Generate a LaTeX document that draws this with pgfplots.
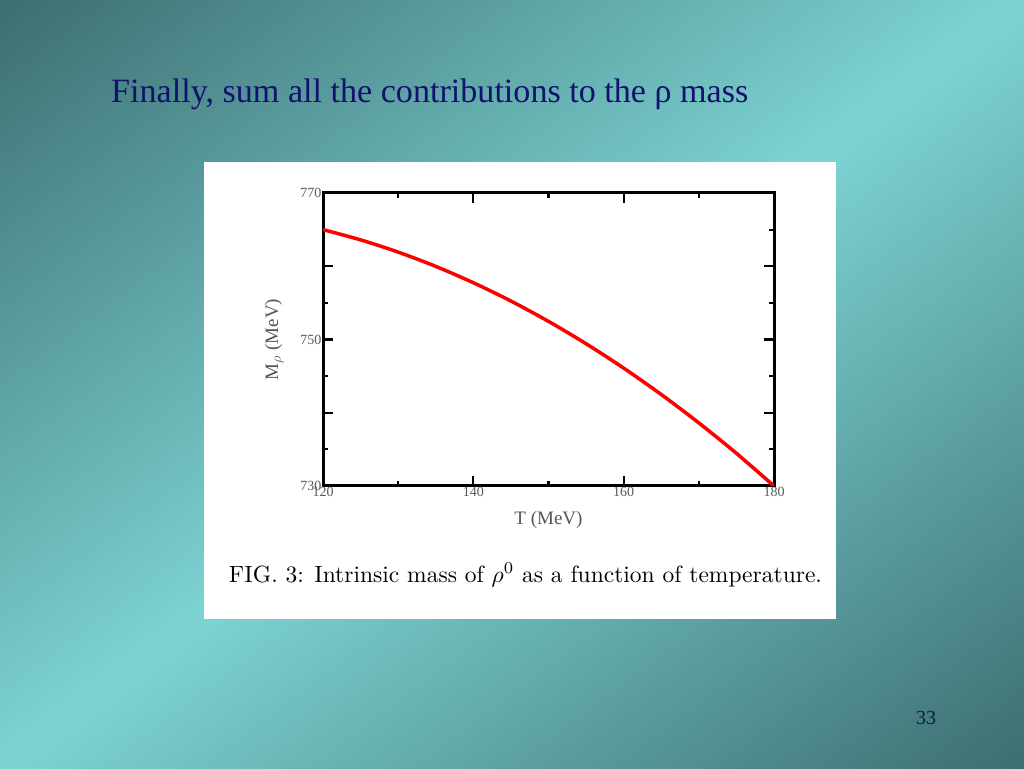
\documentclass[border=0pt]{standalone}
\usepackage{fontspec}
\usepackage{graphicx}
\usepackage{pgfplots}
\pgfplotsset{compat=1.18}
\newfontfamily\tnr{Liberation Serif}
\definecolor{bgdark}{RGB}{58,107,110}
\definecolor{bglight}{RGB}{125,211,211}
\definecolor{titleblue}{RGB}{18,18,110}
\definecolor{numcol}{RGB}{20,28,60}
\definecolor{lblgray}{RGB}{85,85,85}
\definecolor{tickgray}{RGB}{90,90,90}
\pgfdeclareverticalshading{bgshade}{100bp}{color(0bp)=(bgdark); color(14bp)=(bgdark); color(50bp)=(bglight); color(86bp)=(bgdark); color(100bp)=(bgdark)}
\begin{document}
\begin{tikzpicture}[x=1pt,y=1pt]
\useasboundingbox (0,0) rectangle (1024,768);
\shade[shading=bgshade,shading angle=36.87] (0,0) rectangle (1024,768);
\fill[white] (204,149) rectangle (836,606);
\node[anchor=base west, text=titleblue, inner sep=0pt] at (111,665) {\resizebox{637pt}{!}{\tnr Finally, sum all the contributions to the ρ mass}};
\node[inner sep=0pt] at (525.5,193) {\resizebox{593pt}{!}{FIG.~3: Intrinsic mass of $\rho^0$ as a function of temperature.}};
\node[text=numcol, inner sep=0pt] at (926,50) {\tnr\fontsize{20}{20}\selectfont 33};
\begin{axis}[
  at={(323pt,282pt)}, anchor=south west,
  scale only axis, width=451pt, height=293pt,
  xmin=120, xmax=180, ymin=730, ymax=770,
  xtick={120,140,160,180}, minor x tick num=1,
  ytick={730,740,750,760,770}, yticklabels={730,,750,,770}, minor y tick num=1,
  tick align=inside,
  major tick length=10pt, minor tick length=5pt,
  axis line style={line width=3pt, black},
  every tick/.style={black, line width=2.2pt},
  /pgf/number format/assume math mode=true,
  tick label style={font=\tnr\fontsize{14}{14}\selectfont, text=tickgray},
  yticklabel style={xshift=2pt},
  xticklabel style={yshift=2pt},
  xlabel={T (MeV)}, ylabel={M$_{\rho}$ (MeV)},
  label style={font=\tnr\fontsize{19}{19}\selectfont, text=lblgray},
  xlabel style={yshift=-7pt},
  ylabel style={yshift=10pt},
]
\addplot[red, line width=3.5pt, smooth] coordinates {
(120,765.0) (125,763.60) (130,761.93) (135,759.98) (140,757.75) (145,755.25)
(150,752.47) (155,749.42) (160,746.09) (165,742.49) (170,738.61) (175,734.46) (180,730.0)
};
\end{axis}
\end{tikzpicture}
\end{document}
